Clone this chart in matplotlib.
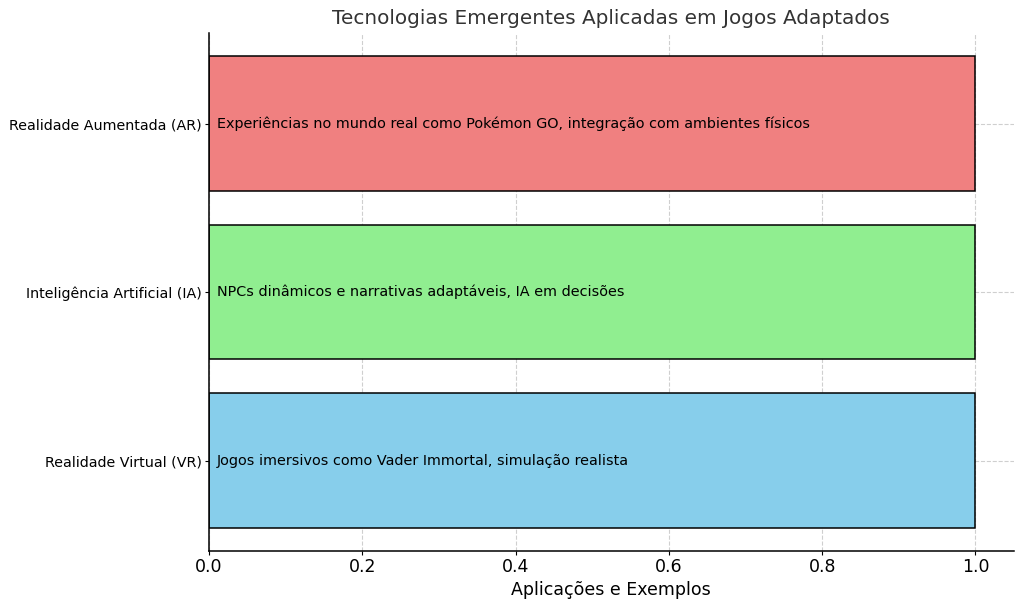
import matplotlib
matplotlib.use("Agg")
import matplotlib.pyplot as plt

# Data
tecnologias = [
    "Realidade Virtual (VR)",
    "Inteligência Artificial (IA)",
    "Realidade Aumentada (AR)",
]
valores = [1, 1, 1]
exemplos = [
    "Jogos imersivos como Vader Immortal, simulação realista",
    "NPCs dinâmicos e narrativas adaptáveis, IA em decisões",
    "Experiências no mundo real como Pokémon GO, integração com ambientes físicos",
]
cores = ["skyblue", "lightgreen", "lightcoral"]

fig, ax = plt.subplots(figsize=(10.24, 6.06), dpi=100)

ax.barh(tecnologias, valores, color=cores, edgecolor="black", linewidth=1.1)

for i, texto in enumerate(exemplos):
    ax.text(0.01, i, texto, va="center", ha="left", fontsize=10.35, color="black")

ax.set_title("Tecnologias Emergentes Aplicadas em Jogos Adaptados", fontsize=14.4, color="#333333")
ax.set_xlabel("Aplicações e Exemplos", fontsize=12.5, labelpad=3)
ax.tick_params(axis="x", labelsize=12.5, length=3, pad=2)
ax.tick_params(axis="y", labelsize=10.3, length=3, pad=2)
ax.grid(True, linestyle="--", alpha=0.6)
ax.set_axisbelow(True)
ax.spines["top"].set_visible(False)
ax.spines["right"].set_visible(False)
for s in ("left", "bottom"):
    ax.spines[s].set_linewidth(1.1)

fig.subplots_adjust(left=0.204, right=0.99, top=0.946, bottom=0.09)
plt.savefig("out.png", dpi=100)
plt.close()
